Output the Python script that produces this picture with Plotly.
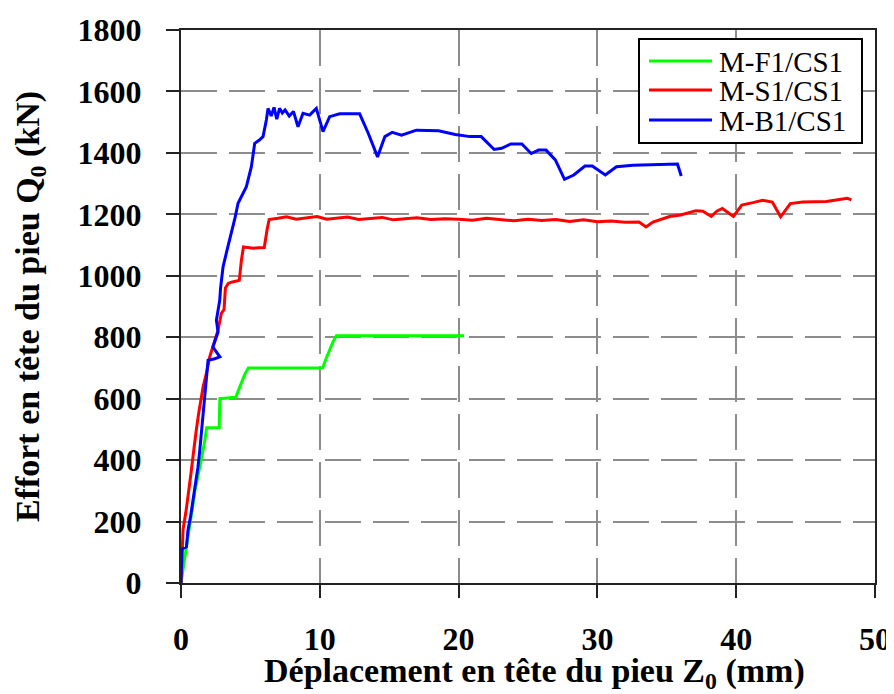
import plotly.graph_objects as go

# ---- data ----
names = ["M-F1/CS1", "M-S1/CS1", "M-B1/CS1"]
colors = ["#00ff00", "#ff0000", "#0000ff"]

green_x = [0, 0.15, 0.3, 0.5, 0.7, 0.85, 1.0, 1.15, 1.35, 1.5, 1.7, 1.85, 2.75, 2.8,
           3.95, 4.15, 4.4, 4.6, 4.85, 10.2, 10.45, 10.7, 10.95, 11.2, 20.4]
green_y = [0, 40, 90, 150, 200, 250, 300, 330, 380, 410, 460, 505, 505, 600,
           605, 630, 660, 680, 700, 700, 730, 760, 785, 805, 805]

red_x = [0, 0.1, 0.15, 0.35, 0.5, 0.7, 0.86, 1.0, 1.1, 1.3, 1.47, 1.6, 1.83, 2.07,
         2.3, 2.5, 2.67, 2.91, 3.1, 3.2, 3.4, 3.7, 4.2, 4.35, 4.5, 5.2, 6.0, 6.2,
         6.35, 7.0, 7.6, 8.3, 9.0, 9.8, 10.5, 11.3, 12.0, 12.8, 13.6, 14.5, 15.3,
         16.2, 17.0, 18.0, 19.0, 20.0, 21.0, 22.0, 23.0, 24.0, 25.0, 26.0, 27.0,
         28.0, 29.0, 30.0, 31.0, 32.0, 33.0, 33.5, 34.0, 35.2, 36.0, 37.1, 37.6,
         38.2, 38.6, 39.0, 39.8, 40.4, 41.2, 41.9, 42.6, 43.2, 43.9, 44.8, 46.5,
         48.0, 48.3]
red_y = [0, 120, 175, 230, 290, 350, 410, 470, 497, 560, 605, 640, 682, 736,
         770, 800, 823, 878, 890, 960, 975, 980, 985, 1050, 1094, 1090, 1092, 1150,
         1183, 1187, 1192, 1184, 1188, 1193, 1184, 1187, 1191, 1183, 1186, 1190, 1182,
         1186, 1189, 1183, 1186, 1184, 1181, 1187, 1183, 1179, 1184, 1180, 1183,
         1177, 1182, 1176, 1178, 1174, 1175, 1159, 1175, 1193, 1198, 1212, 1210,
         1193, 1210, 1219, 1193, 1230, 1238, 1246, 1240, 1192, 1235, 1240, 1242,
         1252, 1247]

blue_x = [0, 0.07, 0.39, 0.5, 0.7, 0.86, 1.05, 1.22, 1.35, 1.47, 1.6, 1.71, 1.85,
          1.95, 2.43, 2.8, 2.3, 2.67, 2.55, 2.79, 2.85, 3.03, 3.3, 3.63, 3.9, 4.11,
          4.4, 4.71, 5.07, 5.31, 5.6, 5.91, 6.15, 6.27, 6.5, 6.7, 6.9, 7.1, 7.3,
          7.5, 7.8, 8.1, 8.43, 8.79, 9.27, 9.75, 10.23, 10.71, 11.43, 12.87, 13.49,
          14.16, 14.69, 15.22, 15.89, 16.56, 16.96, 18.56, 19.76, 20.83, 21.63,
          22.56, 23.1, 23.76, 24.56, 25.23, 25.76, 26.3, 26.97, 27.63, 28.3, 29.1,
          29.63, 30.57, 31.37, 32.56, 35.77, 36.04]
blue_y = [0, 111, 117, 171, 220, 269, 320, 377, 430, 486, 545, 605, 670,
          725, 730, 736, 768, 817, 855, 920, 960, 1029, 1080, 1138, 1190, 1236,
          1260, 1290, 1355, 1431, 1440, 1453, 1507, 1545, 1520, 1548, 1510, 1545, 1530,
          1540, 1520, 1535, 1485, 1529, 1523, 1545, 1469, 1518, 1527, 1527, 1464,
          1387, 1453, 1467, 1458, 1469, 1474, 1472, 1460, 1453, 1453,
          1411, 1415, 1429, 1429, 1398, 1409, 1409, 1377, 1314, 1328, 1357,
          1357, 1328, 1355, 1360, 1364, 1325]

x_ticks = [0, 10, 20, 30, 40, 50]
y_ticks = [0, 200, 400, 600, 800, 1000, 1200, 1400, 1600, 1800]

x_title = "Déplacement en tête du pieu Z<sub>0</sub> (mm)"
y_title = "Effort en tête du pieu Q<sub>0</sub> (kN)"

series = [(green_x, green_y), (red_x, red_y), (blue_x, blue_y)]

# ---- layout geometry (pixels); the page body adds an 8px margin ----
OFF = 8
W, H = 894 - OFF, 694 - OFF
ML, MR, MT, MB = 181 - OFF, 19, 30 - OFF, 111
PW, PH = W - ML - MR, H - MT - MB


def px(xpix):
    # xpix given in screenshot coordinates
    return (xpix - OFF - ML) / PW


def py(ypix):
    return (H - MB - (ypix - OFF)) / PH


serif = "Liberation Serif"

fig = go.Figure()
for (xs, ys), nm, c in zip(series, names, colors):
    fig.add_trace(go.Scatter(x=xs, y=ys, mode="lines", name=nm,
                             line=dict(color=c, width=3), showlegend=False))

tickfont = dict(family=serif, size=32, color="black", weight="bold")
titlefont = dict(family=serif, size=34, color="black", weight="bold")

# legend drawn as a framed box (shapes + text) to match the reference layout
shapes = [dict(type="rect", xref="paper", yref="paper",
               x0=px(639), x1=px(862), y0=py(143), y1=py(39),
               line=dict(color="black", width=2), fillcolor="white", layer="above")]
annotations = []
row_y = [61, 90, 120]
for nm, c, ry in zip(names, colors, row_y):
    shapes.append(dict(type="line", xref="paper", yref="paper",
                       x0=px(649), x1=px(712), y0=py(ry), y1=py(ry),
                       line=dict(color=c, width=3), layer="above"))
    annotations.append(dict(xref="paper", yref="paper", x=px(717), y=py(ry + 1),
                            xanchor="left", yanchor="middle", text=nm, showarrow=False,
                            font=dict(family=serif, size=29, color="black")))

# x-axis title placed as text below the tick labels
annotations.append(dict(xref="paper", yref="paper", x=px(534), y=py(673),
                        xanchor="center", yanchor="middle", text=x_title,
                        showarrow=False, font=titlefont))

fig.update_layout(
    width=W, height=H,
    margin=dict(l=ML, r=MR, t=MT, b=MB),
    paper_bgcolor="white", plot_bgcolor="white",
    font=dict(family=serif, color="black"),
    showlegend=False,
    shapes=shapes, annotations=annotations,
)
fig.update_xaxes(range=[0, 50], tickvals=x_ticks, ticktext=[str(v) for v in x_ticks],
                 showgrid=True, gridcolor="#8c8c8c", gridwidth=1.5, griddash="36px,12px",
                 zeroline=False, showline=True, linecolor="#222", linewidth=2, mirror=True,
                 ticks="outside", ticklen=13, tickwidth=2, tickcolor="#222",
                 tickfont=tickfont, ticklabelstandoff=14, automargin=False)
fig.update_yaxes(range=[0, 1800], tickvals=y_ticks, ticktext=[str(v) for v in y_ticks],
                 showgrid=True, gridcolor="#8c8c8c", gridwidth=1.5, griddash="36px,12px",
                 zeroline=False, showline=True, linecolor="#222", linewidth=2, mirror=True,
                 ticks="outside", ticklen=13, tickwidth=2, tickcolor="#222",
                 tickfont=tickfont, ticklabelstandoff=18, automargin=False,
                 title=dict(text=y_title, font=titlefont, standoff=28))

fig.write_html("out.html")
